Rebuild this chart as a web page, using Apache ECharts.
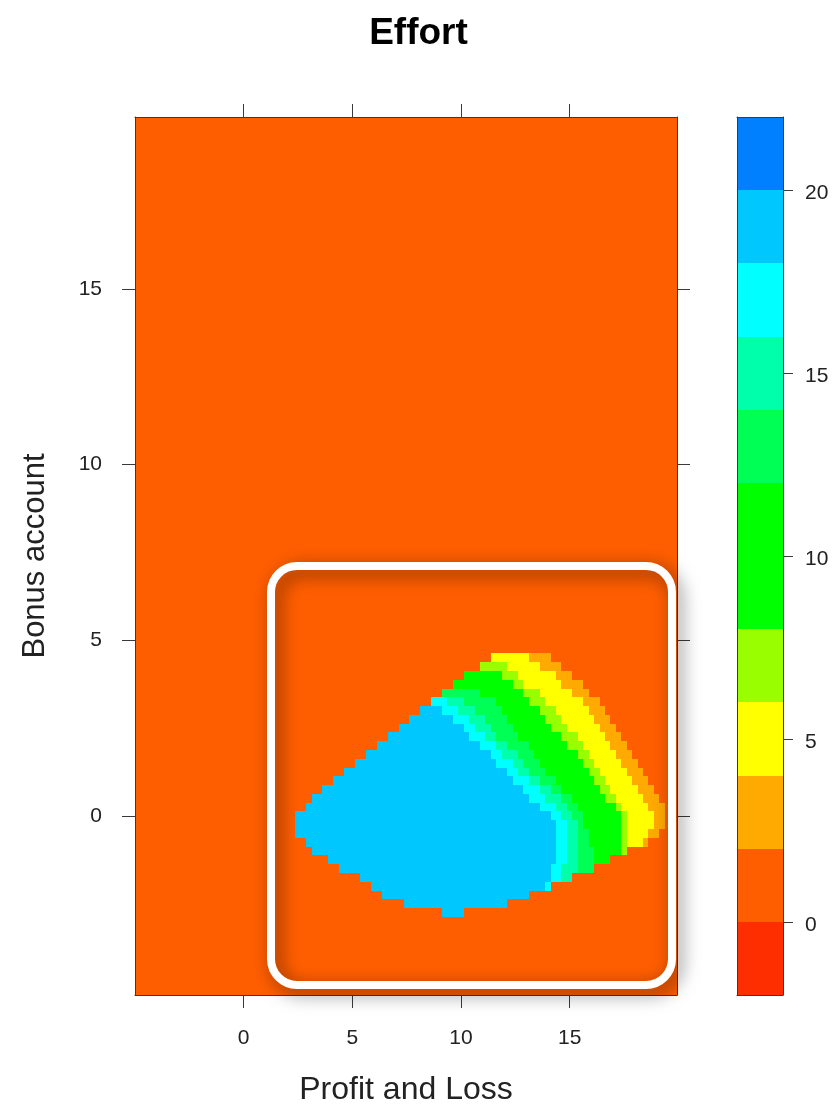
<!DOCTYPE html>
<html><head><meta charset="utf-8">
<script src="https://cdn.jsdelivr.net/npm/echarts@6/dist/echarts.min.js"></script>
<style>html,body{margin:0;padding:0;background:#fff}#c{width:837px;height:1104px}</style>
</head><body><div id="c"></div>
<script>
// ---- grid of the surface ----
const X_FROM = -5, X_TO = 20, Y_FROM = -5, Y_TO = 20, STEP = 0.25;
// ---- visible axis ranges ----
const xRange = [-5, 19.94];
const yRange = [-5.1, 19.9];
// ---- colour key (level breaks and colours) ----
const levelBreaks = [-2, 0, 2, 4, 6, 8, 10, 12, 14, 16, 18, 20, 22];
const levelColors = ['#FF2E00', '#FF5E00', '#FFAA00', '#FFFF00', '#99FF00', '#00FF00', '#00FF00', '#00FF55', '#00FFAA', '#00FFFF', '#00C8FF', '#0080FF'];
const keyTicks = [0, 5, 10, 15, 20];
const xTicks = [0, 5, 10, 15];
const yTicks = [0, 5, 10, 15];
// value of each band (light blue, cyan, aqua, spring green, green, yellow-green, yellow, amber) and of the background
const bandValues = [19, 17, 15, 13, 10, 7, 5, 3];
const backgroundValue = 1;
// rows (Bonus account) of the raised region, and where each band starts along Profit and Loss
const rowY = [4.5, 4.25, 4, 3.75, 3.5, 3.25, 3, 2.75, 2.5, 2.25, 2, 1.75, 1.5, 1.25, 1, 0.75, 0.5, 0.25, 0, -0.25, -0.5, -0.75, -1, -1.25, -1.5, -1.75, -2, -2.25, -2.5, -2.75];
const startLightBlue = [11.5, 11, 10.25, 9.75, 9.25, 8.75, 8.25, 7.75, 7.25, 6.75, 6.25, 5.75, 5.25, 4.75, 4.25, 3.75, 3.25, 3, 2.5, 2.5, 2.5, 3, 3.25, 4, 4.5, 5.5, 6, 6.5, 7.5, 9.25];
const startCyan = [11.5, 11, 10.25, 9.75, 9.25, 8.75, 9.25, 9.75, 10.25, 10.5, 11, 11.5, 11.75, 12.25, 12.5, 13, 13.25, 13.75, 14.25, 14.5, 14.5, 14.5, 14.5, 14.5, 14.25, 14.25, 14, 13.25, 12.25, 10.25];
const startAqua = [11.5, 11, 10.25, 9.75, 9.25, 9.5, 10, 10.5, 10.75, 11.25, 11.75, 12, 12.5, 12.75, 13.25, 13.75, 14, 14.5, 14.75, 15, 15, 15, 15, 15, 14.75, 14.75, 14.25, 13.25, 12.25, 10.25];
const startSpring = [11.5, 11, 10.25, 9.75, 9.25, 10.25, 10.75, 11.25, 11.5, 11.75, 12.25, 12.75, 13, 13.25, 13.75, 14.25, 14.75, 15, 15.25, 15.5, 15.5, 15.5, 15.5, 15.5, 15.5, 15.25, 14.25, 13.25, 12.25, 10.25];
const startGreen = [11.5, 11, 10.25, 9.75, 11, 11.75, 12, 12.25, 12.5, 12.75, 13.25, 13.5, 13.75, 14, 14.5, 14.75, 15.25, 15.5, 15.75, 15.75, 16, 16, 16.25, 16.25, 16.25, 15.25, 14.25, 13.25, 12.25, 10.25];
const startYellowGreen = [11.5, 11, 12, 12.5, 13, 13.25, 13.75, 14, 14.25, 14.75, 15, 15.5, 15.75, 16, 16.25, 16.5, 16.75, 17.25, 17.5, 17.5, 17.5, 17.5, 17.5, 17, 16.25, 15.25, 14.25, 13.25, 12.25, 10.25];
const startYellow = [11.5, 12.25, 12.75, 13, 13.75, 14, 14.5, 14.75, 15, 15.5, 15.75, 16, 16.25, 16.5, 16.75, 17, 17.25, 17.5, 17.75, 17.75, 17.75, 17.75, 17.75, 17, 16.25, 15.25, 14.25, 13.25, 12.25, 10.25];
const startAmber = [13.25, 13.75, 14.5, 14.75, 15.25, 15.75, 16, 16.25, 16.5, 16.75, 17, 17.25, 17.5, 17.75, 18, 18.25, 18.5, 18.75, 19, 19, 18.75, 18.5, 17.75, 17, 16.25, 15.25, 14.25, 13.25, 12.25, 10.25];
const endRegion = [14, 14.5, 15, 15.5, 15.75, 16.25, 16.5, 16.75, 17, 17.25, 17.5, 17.75, 18, 18.25, 18.5, 18.75, 19, 19.25, 19.25, 19.25, 19, 18.5, 17.5, 16.75, 16, 15, 14, 13, 12, 10];

// ---- build runs of equal cells: [xFirst, xLast, y, value] ----
const bandStarts = [startLightBlue, startCyan, startAqua, startSpring, startGreen, startYellowGreen, startYellow, startAmber];
const runs = [];
const nRows = Math.round((Y_TO - Y_FROM) / STEP);
for (let k = 0; k <= nRows; k++) {
  const y = Y_FROM + k * STEP;
  const r = rowY.indexOf(y);
  if (r < 0) { runs.push([X_FROM, X_TO, y, backgroundValue]); continue; }
  const first = startLightBlue[r], end = endRegion[r];
  if (first > X_FROM) runs.push([X_FROM, first - STEP, y, backgroundValue]);
  for (let b = 0; b < bandStarts.length; b++) {
    const s = bandStarts[b][r];
    const next = b < bandStarts.length - 1 ? Math.min(bandStarts[b + 1][r], end + STEP) : end + STEP;
    if (next - STEP >= s && s <= end) runs.push([s, next - STEP, y, bandValues[b]]);
  }
  if (end < X_TO) runs.push([end + STEP, X_TO, y, backgroundValue]);
}
function colorOf(v) {
  for (let i = 0; i < levelColors.length; i++) if (v >= levelBreaks[i] && v < levelBreaks[i + 1]) return levelColors[i];
  return levelColors[levelColors.length - 1];
}
const keyData = levelColors.map((c, i) => [levelBreaks[i], levelBreaks[i + 1], i]);

const FONT = 'Liberation Sans, Arial, sans-serif';
const AX = '#3a3a3a';
const chart = echarts.init(document.getElementById('c'), null, { renderer: 'canvas' });
const lineOnly = { show: true, onZero: false, lineStyle: { color: AX, width: 1 } };
function pixelRect(a, b) {
  const x0 = Math.round(Math.min(a[0], b[0])), x1 = Math.round(Math.max(a[0], b[0]));
  const y0 = Math.round(Math.min(a[1], b[1])), y1 = Math.round(Math.max(a[1], b[1]));
  return { x: x0, y: y0, width: x1 - x0, height: y1 - y0 };
}
chart.setOption({
  animation: false,
  backgroundColor: '#fff',
  title: { text: 'Effort', left: 'center', top: 10, textStyle: { fontFamily: FONT, fontSize: 37, fontWeight: 'bold', color: '#000' } },
  grid: [
    { left: 135, top: 117, width: 542, height: 878, outerBoundsMode: 'none', containLabel: false },
    { left: 737, top: 117, width: 46, height: 878, outerBoundsMode: 'none', containLabel: false }
  ],
  xAxis: [
    { gridIndex: 0, type: 'value', position: 'bottom', min: xRange[0], max: xRange[1], z: 10,
      axisLine: lineOnly, splitLine: { show: false },
      axisTick: { show: true, length: 13, customValues: xTicks, lineStyle: { color: AX } },
      axisLabel: { customValues: xTicks, margin: 33, fontSize: 21, fontFamily: FONT, color: '#222' },
      name: 'Profit and Loss', nameLocation: 'middle', nameGap: 79, nameTextStyle: { fontSize: 32, fontFamily: FONT, color: '#222' } },
    { gridIndex: 0, type: 'value', position: 'top', min: xRange[0], max: xRange[1], z: 10,
      axisLine: lineOnly, splitLine: { show: false },
      axisTick: { show: true, length: 13, customValues: xTicks, lineStyle: { color: AX } },
      axisLabel: { show: false } },
    { gridIndex: 1, type: 'value', position: 'bottom', min: 0, max: 1, z: 10, axisLine: lineOnly, splitLine: { show: false }, axisTick: { show: false }, axisLabel: { show: false } },
    { gridIndex: 1, type: 'value', position: 'top', min: 0, max: 1, z: 10, axisLine: lineOnly, splitLine: { show: false }, axisTick: { show: false }, axisLabel: { show: false } }
  ],
  yAxis: [
    { gridIndex: 0, type: 'value', position: 'left', min: yRange[0], max: yRange[1], z: 10,
      axisLine: lineOnly, splitLine: { show: false },
      axisTick: { show: true, length: 13, customValues: yTicks, lineStyle: { color: AX } },
      axisLabel: { customValues: yTicks, margin: 33, fontSize: 21, fontFamily: FONT, color: '#222' },
      name: 'Bonus account', nameLocation: 'middle', nameGap: 84, nameRotate: 90, nameTextStyle: { fontSize: 31, fontFamily: FONT, color: '#222' } },
    { gridIndex: 0, type: 'value', position: 'right', min: yRange[0], max: yRange[1], z: 10,
      axisLine: lineOnly, splitLine: { show: false },
      axisTick: { show: true, length: 13, customValues: yTicks, lineStyle: { color: AX } },
      axisLabel: { show: false } },
    { gridIndex: 1, type: 'value', position: 'right', min: -2, max: 22, z: 10,
      axisLine: lineOnly, splitLine: { show: false },
      axisTick: { show: true, length: 10, customValues: keyTicks, lineStyle: { color: AX } },
      axisLabel: { customValues: keyTicks, margin: 22, fontSize: 21, fontFamily: FONT, color: '#222',
        formatter: '{a|{value}}', rich: { a: { fontSize: 21, fontFamily: FONT, color: '#222', padding: [6, 0, 0, 0] } } } },
    { gridIndex: 1, type: 'value', position: 'left', min: -2, max: 22, z: 10, axisLine: lineOnly, splitLine: { show: false }, axisTick: { show: false }, axisLabel: { show: false } }
  ],
  series: [
    { type: 'custom', xAxisIndex: 0, yAxisIndex: 0, clip: true, silent: true,
      data: runs, encode: { x: [0, 1], y: 2 },
      renderItem: function (params, api) {
        const p0 = api.coord([api.value(0) - STEP / 2, api.value(2) + STEP / 2]);
        const p1 = api.coord([api.value(1) + STEP / 2, api.value(2) - STEP / 2]);
        return { type: 'rect', shape: pixelRect(p0, p1), style: { fill: colorOf(api.value(3)) } };
      } },
    { type: 'custom', xAxisIndex: 2, yAxisIndex: 2, silent: true,
      data: keyData, encode: { y: [0, 1] },
      renderItem: function (params, api) {
        const p0 = api.coord([0, api.value(1)]);
        const p1 = api.coord([1, api.value(0)]);
        return { type: 'rect', shape: pixelRect(p0, p1), style: { fill: levelColors[api.value(2)] } };
      } }
  ],
  graphic: [
    { type: 'rect', z: 100, silent: true,
      shape: { x: 271, y: 566, width: 401, height: 419, r: 26 },
      style: { fill: 'none', stroke: '#fff', lineWidth: 8, shadowBlur: 18, shadowOffsetX: 5, shadowOffsetY: 5, shadowColor: 'rgba(0,0,0,0.55)' } }
  ]
});
</script></body></html>
